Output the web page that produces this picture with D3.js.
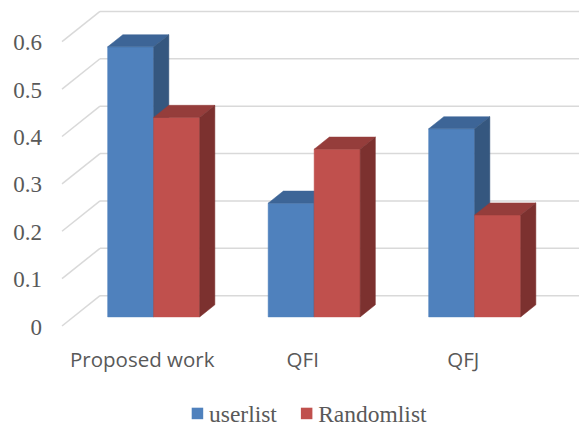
<!DOCTYPE html>
<html>
<head>
<meta charset="utf-8">
<script src="https://cdn.jsdelivr.net/npm/d3@7"></script>
<style>
  html, body { margin: 0; padding: 0; background: #fff; }
  svg { display: block; }
</style>
</head>
<body>
<svg id="chart" width="579" height="425"></svg>
<script>
// ---- data ----
const categories = ["Proposed work", "QFI", "QFJ"];
const seriesNames = ["userlist", "Randomlist"];
const userlist = [0.57, 0.24, 0.397];
const randomlist = [0.421, 0.354, 0.215];
const yTicks = [0, 0.1, 0.2, 0.3, 0.4, 0.5, 0.6];
const yTickLabels = ["0", "0.1", "0.2", "0.3", "0.4", "0.5", "0.6"];

const seriesValues = [userlist, randomlist];
const colors = {
  userlist:   { front: "#4F81BD", top: "#3D6597", side: "#35577F" },
  Randomlist: { front: "#C0504D", top: "#953D3B", side: "#7C312F" }
};

const svg = d3.select("#chart");

// ---- geometry (oblique 3D) ----
const depthDX = 38, depthDY = -30.3;   // full floor depth vector
const barFront = 0.3, barBack = 0.7;    // bar depth fractions
const barW = 46;

const x = d3.scaleBand().domain(categories).range([62, 543.5]).padding(0);
const bw = x.bandwidth();
const xSub = d3.scaleBand().domain(seriesNames)
  .range([(bw - 2 * barW) / 2, (bw + 2 * barW) / 2]).padding(0);
const y = d3.scaleLinear().domain([0, 0.6]).range([326, 41.7]);

// ---- gridlines: side wall diagonals + back wall horizontals ----
const grid = svg.append("g").attr("stroke", "#D9D9D9").attr("stroke-width", 1.5).attr("fill", "none");
grid.selectAll("path.side").data(yTicks).join("path")
  .attr("class", "side")
  .attr("d", t => `M${x.range()[0]},${y(t)} L${x.range()[0] + depthDX},${y(t) + depthDY}`);
grid.selectAll("path.back").data(yTicks).join("path")
  .attr("class", "back")
  .attr("d", t => `M${x.range()[0] + depthDX},${y(t) + depthDY} L${x.range()[1] + depthDX},${y(t) + depthDY}`);

// ---- bars ----
const bars = [];
categories.forEach((c, i) => {
  seriesNames.forEach((s, j) => {
    bars.push({ cat: c, series: s, value: seriesValues[j][i] });
  });
});

const fdx = depthDX * barFront, fdy = depthDY * barFront;
const ddx = depthDX * (barBack - barFront), ddy = depthDY * (barBack - barFront);

const gBars = svg.append("g");
bars.forEach(b => {
  const x0 = x(b.cat) + xSub(b.series) + fdx;
  const x1 = x0 + xSub.bandwidth();
  const yb = y(0) + fdy;
  const yt = y(b.value) + fdy;
  const col = colors[b.series];
  const g = gBars.append("g");
  // front
  g.append("path")
    .attr("d", `M${x0},${yb} L${x0},${yt} L${x1},${yt} L${x1},${yb} Z`)
    .attr("fill", col.front)
    .attr("stroke", col.front).attr("stroke-width", 0.5);
  // top
  g.append("path")
    .attr("d", `M${x0},${yt} L${x0 + ddx},${yt + ddy} L${x1 + ddx},${yt + ddy} L${x1},${yt} Z`)
    .attr("fill", col.top)
    .attr("stroke", col.top).attr("stroke-width", 0.5);
  // side
  g.append("path")
    .attr("d", `M${x1},${yt} L${x1 + ddx},${yt + ddy} L${x1 + ddx},${yb + ddy} L${x1},${yb} Z`)
    .attr("fill", col.side)
    .attr("stroke", col.side).attr("stroke-width", 0.5);
});

// ---- y axis labels ----
svg.append("g").selectAll("text").data(yTicks).join("text")
  .attr("x", 42)
  .attr("y", t => y(t) + 8.5)
  .attr("text-anchor", "end")
  .attr("font-family", "'Liberation Serif', 'Times New Roman', serif")
  .attr("font-size", 23)
  .attr("fill", "#595959")
  .text((t, i) => yTickLabels[i]);

// ---- category labels ----
svg.append("g").selectAll("text").data(categories).join("text")
  .attr("x", c => x(c) + bw / 2)
  .attr("y", 366.5)
  .attr("text-anchor", "middle")
  .attr("font-family", "'Open Sans', sans-serif")
  .attr("font-size", 20.5)
  .attr("fill", "#595959")
  .text(c => c);

// ---- legend ----
const legend = svg.append("g");
let lx = 191.7;
seriesNames.forEach(s => {
  legend.append("rect")
    .attr("x", lx).attr("y", 407.7)
    .attr("width", 11.5).attr("height", 11.5)
    .attr("fill", colors[s].front);
  const t = legend.append("text")
    .attr("x", lx + 17.3).attr("y", 421.5)
    .attr("font-family", "'Liberation Serif', 'Times New Roman', serif")
    .attr("font-size", 23.5)
    .attr("fill", "#595959")
    .text(s);
  lx = lx + 17.3 + t.node().getComputedTextLength() + 24;
});
</script>
</body>
</html>
